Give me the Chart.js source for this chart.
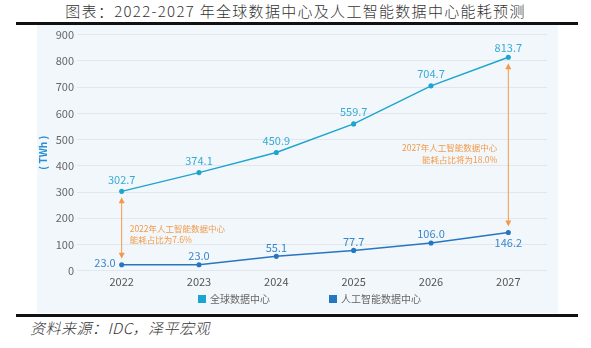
<!DOCTYPE html>
<html>
<head>
<meta charset="utf-8">
<script src="https://cdn.jsdelivr.net/npm/chart.js@4"></script>
<style>
  html, body { margin: 0; padding: 0; background: #fff; }
  body { width: 591px; height: 348px; position: relative; overflow: hidden;
         font-family: "Noto Sans CJK SC", sans-serif; }
  #title { position: absolute; left: 0; top: 2px; width: 591px; text-align: center;
           font-size: 15px; font-weight: 300; color: #333; letter-spacing: 1.3px; line-height: 18px; }
  .rule { position: absolute; left: 16px; width: 562px; height: 3px; background: #111; }
  #panel { position: absolute; left: 37px; top: 25px; width: 521px; height: 288px; background: #f2f7fb; }
  #chart { position: absolute; left: 37px; top: 25px; }
  #source { position: absolute; left: 30px; top: 318px; font-size: 15px; color: #333; font-weight: 300;
            font-style: italic; line-height: 20px; letter-spacing: 0.5px; }
</style>
</head>
<body>
<div id="title">图表：2022-2027 年全球数据中心及人工智能数据中心能耗预测</div>
<div class="rule" style="top:22px"></div>
<div id="panel"></div>
<canvas id="chart" width="521" height="288"></canvas>
<div class="rule" style="top:314px"></div>
<div id="source">资料来源：IDC，泽平宏观</div>

<script>
const years = ["2022", "2023", "2024", "2025", "2026", "2027"];
const globalDC = [302.7, 374.1, 450.9, 559.7, 704.7, 813.7];
const aiDC = [23.0, 23.0, 55.1, 77.7, 106.0, 146.2];
const seriesNames = ["全球数据中心", "人工智能数据中心"];
const shareNotes = [
    { year: "2022", lines: ["2022年人工智能数据中心", "能耗占比为7.6%"] },
    { year: "2027", lines: ["2027年人工智能数据中心", "能耗占比将为18.0%"] }
];

const FONT = "'Noto Sans CJK SC', sans-serif";
const ORANGE = "#f39a4a";

// label offsets per point: [dx, dy, align]
const labelPos = [
    [[0, -12, "center"], [0, -12, "center"], [0, -12, "center"], [0, -12, "center"], [0, -12, "center"], [0, -9, "center"]],
    [[-6, -2, "right"], [0, -9, "center"], [0, -9, "center"], [0, -9, "center"], [0, -9, "center"], [0, 10, "center"]]
];
const labelColors = ["#35acd5", "#3a86cc"];

const valueLabels = {
    id: "valueLabels",
    afterDatasetsDraw(chart) {
        const ctx = chart.ctx;
        ctx.save();
        ctx.font = "11px " + FONT;
        ctx.textBaseline = "middle";
        chart.data.datasets.forEach((ds, di) => {
            chart.getDatasetMeta(di).data.forEach((pt, i) => {
                const p = labelPos[di][i];
                ctx.fillStyle = labelColors[di];
                ctx.textAlign = p[2];
                ctx.fillText(ds.data[i].toFixed(1), pt.x + p[0], pt.y + p[1]);
            });
        });
        ctx.restore();
    }
};

function arrowHead(ctx, x, y, dir) {
    ctx.beginPath();
    ctx.moveTo(x, y);
    ctx.lineTo(x - 3, y - 6 * dir);
    ctx.lineTo(x + 3, y - 6 * dir);
    ctx.closePath();
    ctx.fill();
}

const shareArrows = {
    id: "shareArrows",
    afterDatasetsDraw(chart) {
        const ctx = chart.ctx;
        const x = chart.scales.x, y = chart.scales.y;
        ctx.save();
        ctx.strokeStyle = ORANGE;
        ctx.fillStyle = ORANGE;
        ctx.lineWidth = 1;
        shareNotes.forEach((n, k) => {
            const i = years.indexOf(n.year);
            const px = x.getPixelForValue(i);
            const top = y.getPixelForValue(globalDC[i]) + 6;
            const bot = y.getPixelForValue(aiDC[i]) - 6;
            ctx.beginPath();
            ctx.moveTo(px, top + 4);
            ctx.lineTo(px, bot - 4);
            ctx.stroke();
            arrowHead(ctx, px, top, -1);
            arrowHead(ctx, px, bot, 1);
            const mid = (top + bot) / 2;
            ctx.font = "8.5px " + FONT;
            ctx.textBaseline = "middle";
            if (k === 0) {
                ctx.textAlign = "left";
                ctx.fillText(n.lines[0], px + 8, mid + 1);
                ctx.fillText(n.lines[1], px + 8, mid + 12);
            } else {
                ctx.textAlign = "right";
                ctx.fillText(n.lines[0], px - 11, mid + 3);
                ctx.fillText(n.lines[1], px - 11 - 0, mid + 15);
            }
        });
        ctx.restore();
    }
};

// legend drawn centred under the plot with wide spacing
const wideLegend = {
    id: "wideLegend",
    afterDraw(chart) {
        const ctx = chart.ctx;
        ctx.save();
        ctx.font = "10px " + FONT;
        ctx.textBaseline = "middle";
        ctx.textAlign = "left";
        const starts = [161, 292];
        chart.data.datasets.forEach((ds, di) => {
            const lx = starts[di], ly = 274;
            ctx.fillStyle = ds.borderColor;
            ctx.fillRect(lx, ly - 4, 8, 8);
            ctx.fillStyle = "#666";
            ctx.fillText(ds.label, lx + 12, ly);
        });
        ctx.restore();
    }
};

new Chart(document.getElementById("chart"), {
    type: "line",
    data: {
        labels: years,
        datasets: [
            {
                label: seriesNames[0],
                data: globalDC,
                borderColor: "#1ea5cf",
                backgroundColor: "#1ea5cf",
                borderWidth: 1.5,
                pointRadius: 1.8,
                pointHoverRadius: 1.8,
                tension: 0
            },
            {
                label: seriesNames[1],
                data: aiDC,
                borderColor: "#2676c0",
                backgroundColor: "#2676c0",
                borderWidth: 1.5,
                pointRadius: 1.8,
                pointHoverRadius: 1.8,
                tension: 0
            }
        ]
    },
    options: {
        responsive: false,
        animation: false,
        layout: { padding: { top: 3, right: 11, left: 0, bottom: 21 } },
        plugins: {
            legend: { display: false },
            tooltip: { enabled: false }
        },
        scales: {
            x: {
                offset: true,
                grid: { display: false, drawTicks: false },
                border: { display: false },
                ticks: { color: "#555", font: { family: FONT, size: 11 }, padding: 4 }
            },
            y: {
                min: 0,
                max: 900,
                ticks: { stepSize: 100, color: "#666", font: { family: FONT, size: 11 }, padding: 3 },
                grid: { color: "#e1e7ec", tickLength: 6 },
                border: { display: false },
                title: {
                    display: true,
                    text: "( TWh )",
                    color: "#2a8fd0",
                    font: { family: FONT, size: 10, weight: "bold" },
                    padding: 0
                },
                afterFit(s) { s.width = 46; }
            }
        }
    },
    plugins: [valueLabels, shareArrows, wideLegend]
});
</script>
</body>
</html>
